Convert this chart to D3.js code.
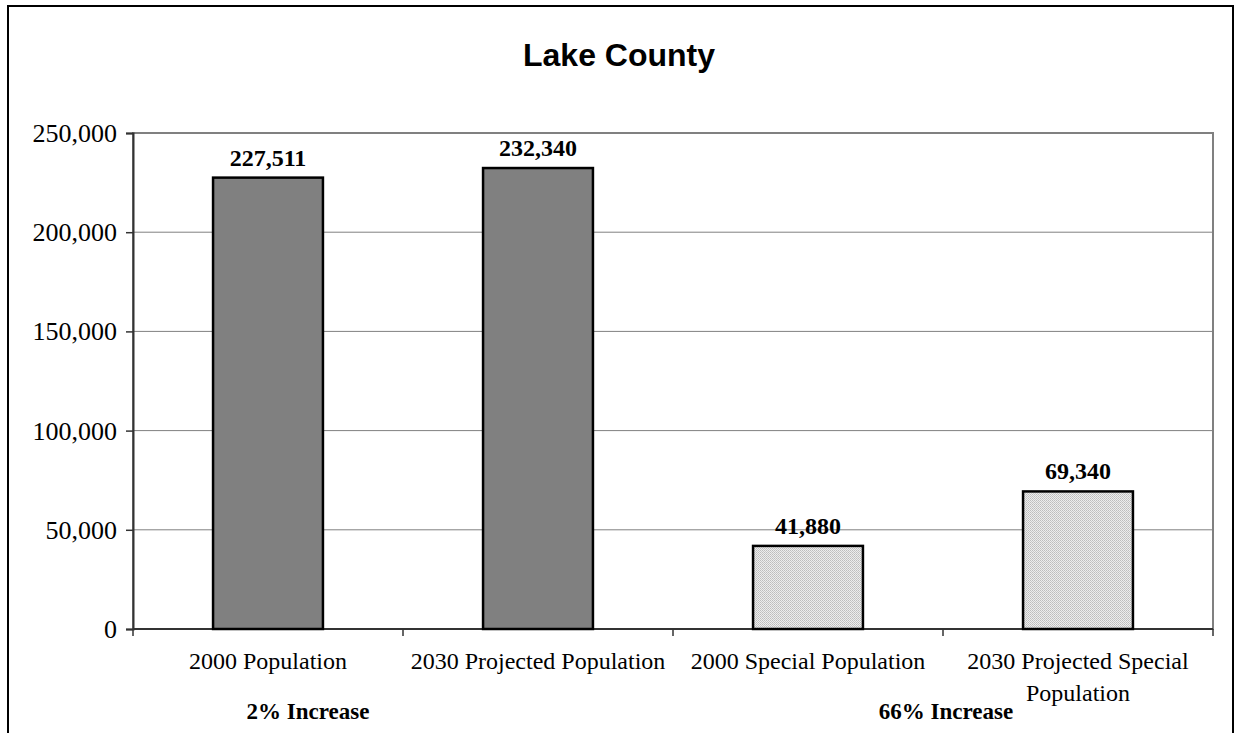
<!DOCTYPE html>
<html>
<head>
<meta charset="utf-8">
<script src="https://cdn.jsdelivr.net/npm/d3@7"></script>
<style>
  html, body { margin: 0; padding: 0; background: #fff; }
  svg { display: block; }
</style>
</head>
<body>
<svg id="chart" width="1235" height="733"></svg>
<script>
// Population figures for Lake County
const categories = [
  "2000 Population",
  "2030 Projected Population",
  "2000 Special Population",
  "2030 Projected Special Population"
];
const values = [227511, 232340, 41880, 69340];
const barKinds = ["total", "total", "special", "special"];
const yTicks = [0, 50000, 100000, 150000, 200000, 250000];
const increaseNotes = ["2% Increase", "66% Increase"];
const title = "Lake County";

const svg = d3.select("#chart");
const plot = { left: 133, right: 1213, top: 133, bottom: 629 };
const serif = "Liberation Serif, Times New Roman, serif";

// Fill pattern for the special-population bars
const defs = svg.append("defs");
const pat = defs.append("pattern")
  .attr("id", "dots").attr("patternUnits", "userSpaceOnUse")
  .attr("width", 2).attr("height", 2);
pat.append("rect").attr("width", 2).attr("height", 2).attr("fill", "#ededed");
pat.append("rect").attr("width", 1).attr("height", 1).attr("fill", "#bdbdbd");
pat.append("rect").attr("x", 1).attr("y", 1).attr("width", 1).attr("height", 1).attr("fill", "#c8c8c8");

// Outer frame
svg.append("rect")
  .attr("x", 8).attr("y", 6).attr("width", 1225).attr("height", 740)
  .attr("fill", "#fff").attr("stroke", "#000").attr("stroke-width", 2);

svg.append("text")
  .attr("x", 619).attr("y", 66)
  .attr("text-anchor", "middle")
  .attr("font-family", "Liberation Sans, Arial, sans-serif")
  .attr("font-weight", "bold").attr("font-size", 32)
  .text(title);

const band = d3.scaleBand().domain(categories).range([plot.left, plot.right]);
const barWidth = band.bandwidth() * 0.407;
const barX = c => band(c) + (band.bandwidth() - barWidth) / 2;
const y = d3.scaleLinear().domain([0, 250000]).range([plot.bottom, plot.top]);

// Plot area border and gridlines
svg.append("rect")
  .attr("x", plot.left).attr("y", plot.top)
  .attr("width", plot.right - plot.left).attr("height", plot.bottom - plot.top)
  .attr("fill", "none").attr("stroke", "#808080").attr("stroke-width", 2);

svg.append("g").selectAll("line")
  .data(yTicks.filter(d => d > 0 && d < 250000))
  .join("line")
  .attr("x1", plot.left).attr("x2", plot.right)
  .attr("y1", d => y(d)).attr("y2", d => y(d))
  .attr("stroke", "#808080").attr("stroke-width", 1);

// Y axis
const yAxis = svg.append("g")
  .attr("transform", `translate(${plot.left},0)`)
  .call(d3.axisLeft(y).tickValues(yTicks).tickSize(7).tickPadding(9)
    .tickFormat(d3.format(",")));
yAxis.select(".domain").attr("stroke", "#333").attr("stroke-width", 2);
yAxis.selectAll(".tick line").attr("stroke", "#333").attr("stroke-width", 1.5);
yAxis.selectAll("text")
  .attr("font-family", serif)
  .attr("font-size", 26).attr("fill", "#000").attr("dy", "0.33em");

// X axis with ticks at category boundaries
const xAxisG = svg.append("g");
xAxisG.append("line")
  .attr("x1", plot.left).attr("x2", plot.right)
  .attr("y1", plot.bottom).attr("y2", plot.bottom)
  .attr("stroke", "#333").attr("stroke-width", 2);
const boundaries = categories.map(c => band(c)).concat([plot.right]);
xAxisG.selectAll(".bt").data(boundaries).join("line")
  .attr("class", "bt")
  .attr("x1", d => d).attr("x2", d => d)
  .attr("y1", plot.bottom).attr("y2", plot.bottom + 7)
  .attr("stroke", "#333").attr("stroke-width", 1.5);

// Bars
svg.append("g").selectAll("rect")
  .data(values)
  .join("rect")
  .attr("x", (d, i) => barX(categories[i]))
  .attr("y", d => y(d))
  .attr("width", barWidth)
  .attr("height", d => y(0) - y(d))
  .attr("fill", (d, i) => barKinds[i] === "total" ? "#808080" : "url(#dots)")
  .attr("stroke", "#000").attr("stroke-width", 2.5);

// Value labels
svg.append("g").selectAll("text")
  .data(values)
  .join("text")
  .attr("x", (d, i) => band(categories[i]) + band.bandwidth() / 2)
  .attr("y", d => y(d) - 12)
  .attr("text-anchor", "middle")
  .attr("font-family", serif)
  .attr("font-weight", "bold").attr("font-size", 24)
  .text(d => d3.format(",")(d));

// Category labels (the last one wraps onto two lines)
const catLines = [
  [categories[0]],
  [categories[1]],
  [categories[2]],
  ["2030 Projected Special", "Population"]
];
svg.append("g").selectAll("text")
  .data(categories)
  .join("text")
  .attr("y", 669)
  .attr("text-anchor", "middle")
  .attr("font-family", serif)
  .attr("font-size", 24)
  .each(function(d, i) {
    const t = d3.select(this);
    catLines[i].forEach((line, k) => {
      t.append("tspan")
        .attr("x", band(d) + band.bandwidth() / 2)
        .attr("dy", k === 0 ? 0 : 32)
        .text(line);
    });
  });

// Increase notes below the axis
const noteX = [308, 946];
svg.append("g").selectAll("text")
  .data(increaseNotes)
  .join("text")
  .attr("x", (d, i) => noteX[i])
  .attr("y", 719)
  .attr("text-anchor", "middle")
  .attr("font-family", serif)
  .attr("font-weight", "bold").attr("font-size", 23)
  .text(d => d);
</script>
</body>
</html>
